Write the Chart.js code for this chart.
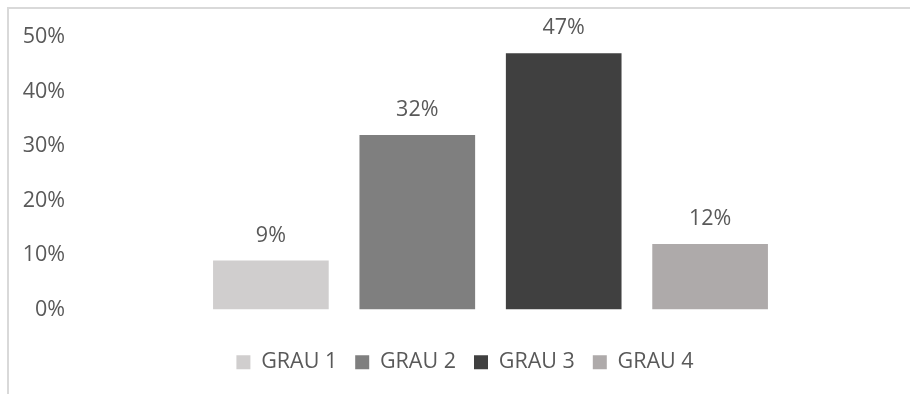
<!DOCTYPE html>
<html>
<head>
<meta charset="utf-8">
<script src="https://cdn.jsdelivr.net/npm/chart.js@4/dist/chart.umd.min.js"></script>
<style>
  html, body { margin: 0; padding: 0; background: #fff; }
  #wrap { position: relative; width: 910px; height: 394px; }
  #frame {
    position: absolute; left: 7px; top: 7px; right: 0; bottom: 0;
    border-top: 2px solid #d9d9d9; border-left: 2px solid #d9d9d9;
  }
  canvas { position: absolute; left: 0; top: 0; }
</style>
</head>
<body>
<div id="wrap">
  <div id="frame"></div>
  <canvas id="grauChart" width="910" height="394"></canvas>
</div>
<script>
const grades = ['GRAU 1', 'GRAU 2', 'GRAU 3', 'GRAU 4'];
const percents = [9, 32, 47, 12];
const colors = ['#d0cece', '#7f7f7f', '#404040', '#aeaaaa'];
const yTicks = [0, 10, 20, 30, 40, 50];

const textColor = '#595959';
const fontFamily = '"Open Sans", "Noto Sans", sans-serif';
const fontSize = 21.5;

// value labels above each bar
const barLabels = {
  id: 'barLabels',
  afterDatasetsDraw(chart) {
    const ctx = chart.ctx;
    ctx.save();
    ctx.font = fontSize + 'px ' + fontFamily;
    ctx.fillStyle = textColor;
    ctx.textAlign = 'center';
    ctx.textBaseline = 'middle';
    chart.data.datasets.forEach((ds, i) => {
      chart.getDatasetMeta(i).data.forEach((bar, j) => {
        ctx.fillText(ds.data[j] + '%', bar.x, bar.y - 25);
      });
    });
    ctx.restore();
  }
};

const ctx = document.getElementById('grauChart').getContext('2d');

const grauChart = new Chart(ctx, {
  type: 'bar',
  data: {
    labels: [''],
    datasets: grades.map((g, i) => ({
      label: g,
      data: [percents[i]],
      backgroundColor: colors[i],
      barPercentage: 0.79,
      categoryPercentage: 0.698
    }))
  },
  options: {
    responsive: false,
    animation: false,
    layout: {
      padding: { top: 37, right: 0, bottom: 11, left: 20 }
    },
    scales: {
      x: {
        grid: { display: false },
        border: { display: false },
        ticks: { display: false },
        afterFit: scale => { scale.height = 24; }
      },
      y: {
        min: 0,
        max: 50,
        afterBuildTicks: scale => { scale.ticks = yTicks.map(v => ({ value: v })); },
        afterFit: scale => { scale.width = 51; },
        grid: { display: false, drawTicks: false },
        border: { display: false },
        ticks: {
          padding: 6,
          color: textColor,
          font: { family: fontFamily, size: fontSize },
          callback: v => v + '%'
        }
      }
    },
    plugins: {
      legend: {
        position: 'bottom',
        labels: {
          boxWidth: 14,
          boxHeight: 14,
          padding: 18,
          color: textColor,
          font: { family: fontFamily, size: fontSize }
        }
      },
      tooltip: { enabled: false }
    }
  },
  plugins: [barLabels]
});
</script>
</body>
</html>
